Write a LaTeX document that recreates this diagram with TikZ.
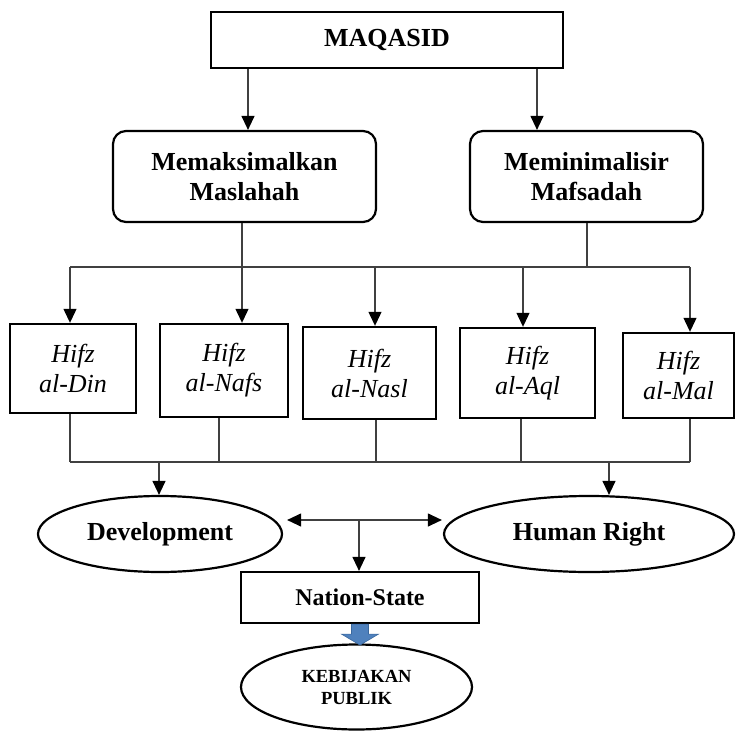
\documentclass[tikz,border=0pt]{standalone}
\usepackage{fontspec}
\setmainfont{Liberation Serif}
\usetikzlibrary{arrows.meta,shapes.geometric}
\definecolor{blockblue}{RGB}{79,129,189}
\definecolor{blockedge}{RGB}{58,103,156}
\begin{document}
\begin{tikzpicture}[x=1pt,y=-1pt,
  box/.style={draw,line width=2.2pt,inner sep=0pt,align=center,
    font=\bfseries\fontsize{26}{30}\selectfont},
  rbox/.style={box,rounded corners=13pt},
  hbox/.style={draw,line width=2.4pt,inner sep=0pt,align=center,
    font=\itshape\fontsize{26}{30}\selectfont},
  ell/.style={draw,ellipse,line width=2.2pt,inner sep=0pt,align=center,
    font=\bfseries\fontsize{26}{30}\selectfont},
  ln/.style={line width=1.2pt,draw=black!75},
  tip/.tip={Triangle[length=14pt,width=13pt,color=black]},
  arr/.style={ln,-tip},
  darr/.style={ln,tip-tip},
]
\useasboundingbox (0,0) rectangle (737,731);

% nodes
\node[box,minimum width=352pt,minimum height=56pt] (maq) at (387,40) {MAQASID};
\node[rbox,minimum width=263pt,minimum height=91pt] (ml) at (244.5,176.5) {Memaksimalkan\\Maslahah};
\node[rbox,minimum width=233pt,minimum height=91pt] (mr) at (586.5,176.5) {Meminimalisir\\Mafsadah};

\node[hbox,minimum width=126pt,minimum height=89pt] (h1) at (73,368.5) {Hifz\\al-Din};
\node[hbox,minimum width=128pt,minimum height=93pt] (h2) at (224,370.5) {Hifz\\al-Nafs};
\node[hbox,minimum width=133pt,minimum height=92pt] (h3) at (369.5,373) {Hifz\\al-Nasl};
\node[hbox,minimum width=135pt,minimum height=90pt] (h4) at (527.5,373) {Hifz\\al-Aql};
\node[hbox,minimum width=111pt,minimum height=85pt] (h5) at (678.5,375.5) {Hifz\\al-Mal};

\node[ell,minimum width=244pt,minimum height=76pt] (dev) at (160,534) {Development};
\node[ell,minimum width=290pt,minimum height=76pt] (hr) at (589,534) {Human Right};
\node[box,minimum width=238pt,minimum height=51pt,font=\bfseries\fontsize{24}{28}\selectfont] (ns) at (360,597.5) {Nation-State};
\node[ell,minimum width=231pt,minimum height=85pt,font=\bfseries\fontsize{18.5}{22}\selectfont] (keb) at (356.5,687) {KEBIJAKAN\\PUBLIK};

% top arrows
\coordinate (xa) at (248,0);
\coordinate (xb) at (537,0);
\draw[arr] (maq.south -| xa) -- (ml.north -| xa);
\draw[arr] (maq.south -| xb) -- (mr.north -| xb);

% upper bus
\coordinate (b1) at (70,267);
\coordinate (b2) at (242,267);
\coordinate (b3) at (375,267);
\coordinate (b4) at (523,267);
\coordinate (b5) at (690,267);
\coordinate (bm) at (587,267);
\draw[ln] (b1) -- (b5);
\draw[ln] (mr.south -| bm) -- (bm);
\draw[arr] (ml.south -| b2) -- (h2.north -| b2);
\draw[arr] (b1) -- (h1.north -| b1);
\draw[arr] (b3) -- (h3.north -| b3);
\draw[arr] (b4) -- (h4.north -| b4);
\draw[arr] (b5) -- (h5.north -| b5);

% lower bus
\coordinate (d1) at (70,462);
\coordinate (d2) at (219,462);
\coordinate (d3) at (376,462);
\coordinate (d4) at (521,462);
\coordinate (d5) at (690,462);
\draw[ln] (h1.south -| d1) -- (d1);
\draw[ln] (h2.south -| d2) -- (d2);
\draw[ln] (h3.south -| d3) -- (d3);
\draw[ln] (h4.south -| d4) -- (d4);
\draw[ln] (h5.south -| d5) -- (d5);
\draw[ln] (d1) -- (d5);

\coordinate (e1) at (159,462);
\coordinate (e2) at (609,462);
\draw[arr] (e1) -- (dev.north -| e1);
\draw[arr] (e2) -- (hr.north -| e2);

% middle arrows
\coordinate (m) at (359,520);
\draw[darr] ([xshift=4pt]dev.east |- m) -- ([xshift=-1pt]hr.west |- m);
\draw[arr] (m) -- (ns.north -| m);

% block arrow
\draw[fill=blockblue,draw=blockedge,line width=0.6pt]
  ([xshift=-8.5pt]ns.south) -- ++(0,10) -- ++(-10,0) -- ++(18.5,11)
  -- ++(18.5,-11) -- ++(-10,0) -- ++(0,-10) -- cycle;
\end{tikzpicture}
\end{document}
